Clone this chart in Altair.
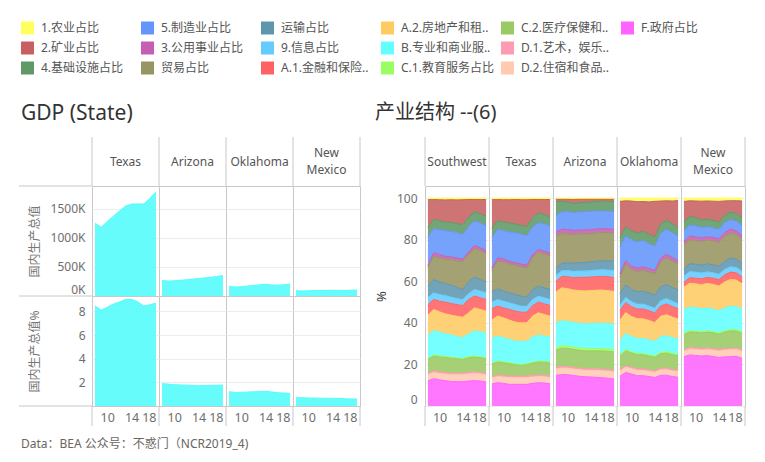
import altair as alt
import pandas as pd

FONT = "Noto Sans, Noto Sans CJK SC"
YEARS = [2008, 2009, 2010, 2011, 2012, 2013, 2014, 2015, 2016, 2017, 2018]

SECTORS = ["1.农业占比", "2.矿业占比", "4.基础设施占比", "5.制造业占比", "3.公用事业占比",
           "贸易占比", "运输占比", "9.信息占比", "A.1.金融和保险..", "A.2.房地产和租..",
           "B.专业和商业服..", "C.1.教育服务占比", "C.2.医疗保健和..", "D.1.艺术，娱乐..",
           "D.2.住宿和食品..", "F.政府占比"]
COLORS = ["#ffff5e", "#c76161", "#5f9965", "#6495fc", "#c45fb2",
          "#979561", "#5f96ae", "#63cbfe", "#ff6262", "#fecb63",
          "#63ffff", "#9afe62", "#9aca63", "#fe9ab2", "#ffcbb0", "#ff63ff"]

STATES = ["Texas", "Arizona", "Oklahoma", "New Mexico"]
# GDP, millions of dollars
GDP = {
    "Texas":      [1250000, 1182000, 1278000, 1369000, 1460000, 1545000, 1580000, 1582000, 1580000, 1676000, 1790000],
    "Arizona":    [267000, 256000, 261000, 270000, 280000, 290000, 300000, 311000, 322000, 336000, 352000],
    "Oklahoma":   [170000, 153000, 160000, 172000, 182000, 192000, 200000, 190000, 186000, 193000, 205000],
    "New Mexico": [91000, 86000, 89000, 93000, 94000, 96000, 99000, 96000, 95000, 100000, 104000],
}
# share of US GDP, %
GDP_PCT = {
    "Texas":      [8.45, 8.11, 8.34, 8.62, 8.79, 9.01, 9.01, 8.82, 8.45, 8.56, 8.70],
    "Arizona":    [1.89, 1.85, 1.80, 1.78, 1.76, 1.74, 1.72, 1.73, 1.74, 1.75, 1.77],
    "Oklahoma":   [1.21, 1.15, 1.16, 1.18, 1.20, 1.22, 1.24, 1.19, 1.12, 1.09, 1.07],
    "New Mexico": [0.70, 0.70, 0.68, 0.67, 0.66, 0.65, 0.65, 0.63, 0.61, 0.60, 0.59],
}

REGIONS = ["Southwest", "Texas", "Arizona", "Oklahoma", "New Mexico"]
SOUTHWEST = {
    "1.农业占比": [0.8, 0.7, 0.8, 0.9, 0.8, 0.9, 0.8, 0.7, 0.7, 0.7, 0.7],
    "2.矿业占比": [13.6, 9.6, 10.1, 10.7, 10.9, 11.4, 12.0, 8.5, 5.9, 6.9, 8.0],
    "4.基础设施占比": [4.8, 4.5, 4.3, 4.2, 4.3, 4.3, 4.8, 4.6, 4.5, 4.3, 4.8],
    "5.制造业占比": [13.6, 11.5, 12.0, 12.3, 12.3, 12.3, 11.7, 12.0, 11.7, 12.0, 11.7],
    "3.公用事业占比": [1.1, 1.6, 1.6, 1.3, 1.3, 1.3, 1.1, 1.3, 1.4, 1.3, 1.4],
    "贸易占比": [9.0, 11.2, 11.5, 11.8, 12.3, 12.8, 13.6, 13.1, 13.8, 13.9, 13.6],
    "运输占比": [5.6, 6.4, 6.1, 5.8, 5.8, 5.4, 4.8, 5.8, 5.9, 5.6, 5.3],
    "9.信息占比": [3.5, 3.2, 3.2, 3.2, 3.0, 2.9, 2.9, 2.7, 3.2, 3.2, 3.2],
    "A.1.金融和保险..": [5.0, 4.8, 5.1, 5.6, 5.6, 5.6, 5.6, 6.4, 5.6, 5.6, 5.6],
    "A.2.房地产和租..": [9.9, 10.1, 9.8, 9.6, 9.6, 9.8, 9.9, 10.1, 11.2, 10.7, 10.4],
    "B.专业和商业服..": [11.2, 11.8, 11.4, 10.9, 10.6, 10.2, 9.9, 11.0, 12.0, 12.0, 12.0],
    "C.1.教育服务占比": [0.5, 0.5, 0.5, 0.5, 0.5, 0.5, 0.5, 0.5, 0.5, 0.5, 0.5],
    "C.2.医疗保健和..": [6.7, 7.2, 7.2, 7.3, 7.2, 6.9, 6.6, 7.0, 7.1, 7.0, 7.0],
    "D.1.艺术，娱乐..": [0.8, 0.8, 0.8, 0.8, 0.8, 0.8, 0.8, 0.8, 0.8, 0.8, 0.8],
    "D.2.住宿和食品..": [2.9, 2.9, 3.0, 3.1, 3.2, 3.3, 3.3, 3.4, 3.4, 3.4, 3.4],
    "F.政府占比": [12.3, 13.1, 12.6, 12.2, 11.8, 11.7, 11.7, 12.0, 12.2, 12.0, 11.5],
}
TEXAS = {
    "1.农业占比": [0.8, 0.7, 0.8, 0.8, 0.7, 0.8, 0.8, 0.7, 0.7, 0.7, 0.7],
    "2.矿业占比": [13.9, 10.1, 10.7, 11.2, 11.7, 12.3, 12.8, 8.8, 6.4, 7.2, 8.3],
    "4.基础设施占比": [4.5, 4.3, 4.2, 4.3, 4.3, 4.2, 4.5, 4.5, 4.8, 4.5, 4.5],
    "5.制造业占比": [14.7, 13.6, 13.6, 14.1, 14.4, 14.4, 14.2, 13.1, 12.8, 13.1, 12.8],
    "3.公用事业占比": [1.3, 1.6, 1.4, 1.3, 1.1, 1.3, 1.3, 1.3, 1.3, 1.3, 1.3],
    "贸易占比": [10.0, 13.3, 14.1, 13.9, 14.1, 14.2, 14.1, 15.5, 16.3, 16.3, 16.3],
    "运输占比": [5.1, 5.1, 4.8, 4.8, 4.8, 4.8, 4.3, 4.8, 4.8, 4.8, 4.8],
    "9.信息占比": [3.2, 3.2, 3.2, 3.2, 3.2, 2.9, 2.9, 2.9, 2.9, 2.9, 2.9],
    "A.1.金融和保险..": [5.6, 4.8, 4.8, 5.1, 5.3, 5.1, 5.1, 5.1, 5.1, 5.1, 5.1],
    "A.2.房地产和租..": [8.8, 9.6, 9.6, 9.3, 9.1, 9.1, 8.8, 10.1, 10.7, 10.4, 10.1],
    "B.专业和商业服..": [12.0, 12.0, 11.5, 11.2, 10.9, 10.9, 10.9, 12.0, 12.5, 12.0, 12.0],
    "C.1.教育服务占比": [0.5, 0.5, 0.5, 0.5, 0.5, 0.5, 0.5, 0.5, 0.5, 0.5, 0.5],
    "C.2.医疗保健和..": [5.9, 6.2, 6.1, 5.9, 5.4, 5.1, 5.4, 5.9, 6.2, 6.2, 6.2],
    "D.1.艺术，娱乐..": [0.8, 0.8, 0.8, 0.8, 0.8, 0.8, 0.8, 0.8, 0.8, 0.8, 0.8],
    "D.2.住宿和食品..": [2.9, 2.9, 3.0, 3.2, 3.2, 3.2, 3.2, 3.0, 2.9, 3.0, 2.9],
    "F.政府占比": [10.7, 11.2, 10.9, 10.4, 10.4, 10.4, 10.4, 10.9, 11.2, 11.0, 10.7],
}
ARIZONA = {
    "1.农业占比": [0.6, 0.6, 0.6, 0.7, 0.6, 0.6, 0.6, 0.6, 0.6, 0.6, 0.6],
    "2.矿业占比": [1.0, 0.9, 1.2, 1.8, 1.6, 1.4, 1.2, 1.0, 0.9, 0.9, 1.0],
    "4.基础设施占比": [6.6, 5.0, 4.6, 4.4, 4.3, 4.4, 4.5, 4.6, 4.6, 4.7, 4.8],
    "5.制造业占比": [7.8, 8.2, 8.4, 8.4, 8.5, 8.6, 8.6, 8.4, 8.3, 8.3, 8.4],
    "3.公用事业占比": [1.8, 2.0, 2.0, 1.9, 1.8, 1.9, 1.9, 1.8, 1.8, 1.8, 1.8],
    "贸易占比": [15.0, 14.0, 13.6, 13.5, 13.6, 13.5, 13.4, 13.4, 13.3, 13.3, 13.2],
    "运输占比": [3.6, 3.5, 3.7, 3.8, 3.9, 4.0, 4.0, 4.1, 4.2, 4.3, 4.5],
    "9.信息占比": [2.8, 2.7, 2.9, 3.0, 3.0, 3.0, 3.1, 3.1, 3.2, 3.2, 3.3],
    "A.1.金融和保险..": [5.0, 5.3, 5.6, 5.8, 6.2, 6.4, 6.4, 6.4, 6.4, 6.5, 6.5],
    "A.2.房地产和租..": [14.7, 15.5, 15.4, 15.3, 15.4, 15.5, 15.6, 15.6, 15.6, 15.5, 15.5],
    "B.专业和商业服..": [11.6, 11.8, 11.6, 11.6, 11.6, 11.7, 11.8, 11.9, 12.0, 12.0, 12.0],
    "C.1.教育服务占比": [1.0, 1.1, 1.1, 1.1, 1.1, 1.1, 1.1, 1.1, 1.1, 1.1, 1.1],
    "C.2.医疗保健和..": [8.2, 8.6, 8.6, 8.5, 8.4, 8.4, 8.4, 8.5, 8.6, 8.6, 8.7],
    "D.1.艺术，娱乐..": [0.8, 0.8, 0.8, 0.8, 0.8, 0.8, 0.8, 0.8, 0.8, 0.8, 0.8],
    "D.2.住宿和食品..": [3.0, 3.0, 3.0, 3.0, 3.0, 3.0, 3.1, 3.2, 3.2, 3.3, 3.3],
    "F.政府占比": [14.4, 14.8, 14.7, 14.4, 14.0, 13.8, 13.7, 13.5, 13.3, 13.1, 12.7],
}
OKLAHOMA = {
    "1.农业占比": [1.6, 1.4, 1.5, 1.8, 1.7, 1.9, 1.6, 1.5, 1.4, 1.5, 1.3],
    "2.矿业占比": [17.5, 13.0, 15.0, 15.5, 14.5, 16.0, 17.5, 11.5, 10.0, 11.5, 13.5],
    "4.基础设施占比": [4.5, 4.6, 4.4, 4.4, 4.5, 4.6, 4.6, 4.8, 4.7, 4.6, 4.6],
    "5.制造业占比": [13.0, 12.3, 13.2, 12.8, 12.8, 12.2, 11.8, 12.5, 12.8, 12.6, 12.4],
    "3.公用事业占比": [1.6, 1.8, 1.8, 1.7, 1.7, 1.7, 1.6, 1.8, 1.9, 1.8, 1.7],
    "贸易占比": [8.0, 10.5, 10.0, 10.0, 10.2, 10.3, 10.5, 12.5, 13.5, 13.5, 13.2],
    "运输占比": [5.6, 6.2, 6.0, 6.2, 6.3, 6.5, 6.5, 7.0, 7.2, 7.0, 6.8],
    "9.信息占比": [2.4, 2.6, 2.5, 2.4, 2.4, 2.3, 2.3, 2.6, 2.8, 2.7, 2.6],
    "A.1.金融和保险..": [4.8, 5.0, 4.9, 4.8, 4.8, 4.8, 4.7, 5.2, 5.5, 5.3, 5.3],
    "A.2.房地产和租..": [9.6, 10.5, 10.0, 9.8, 9.6, 9.5, 9.3, 10.2, 10.8, 10.5, 10.2],
    "B.专业和商业服..": [7.2, 8.0, 7.6, 7.4, 7.3, 7.4, 7.2, 7.8, 8.2, 8.0, 7.8],
    "C.1.教育服务占比": [0.6, 0.7, 0.7, 0.6, 0.6, 0.6, 0.6, 0.7, 0.7, 0.7, 0.6],
    "C.2.医疗保健和..": [6.4, 7.4, 7.1, 7.0, 6.9, 6.8, 6.6, 7.4, 7.7, 7.5, 7.3],
    "D.1.艺术，娱乐..": [0.8, 0.8, 0.8, 0.8, 0.8, 0.8, 0.8, 0.8, 0.8, 0.8, 0.8],
    "D.2.住宿和食品..": [2.4, 2.6, 2.6, 2.5, 2.5, 2.5, 2.5, 2.7, 2.8, 2.8, 2.8],
    "F.政府占比": [14.4, 16.8, 16.0, 15.0, 14.8, 14.5, 14.0, 15.4, 15.8, 15.0, 14.6],
}
NEW_MEXICO = {
    "1.农业占比": [1.6, 1.3, 1.4, 1.5, 1.4, 1.5, 1.6, 1.4, 1.3, 1.3, 1.4],
    "2.矿业占比": [9.6, 7.5, 8.0, 9.0, 8.8, 9.2, 10.0, 7.0, 5.5, 6.2, 8.0],
    "4.基础设施占比": [4.2, 4.2, 3.9, 3.7, 3.6, 3.6, 3.5, 3.6, 3.7, 3.7, 3.8],
    "5.制造业占比": [5.0, 5.2, 5.4, 5.0, 4.8, 4.6, 4.5, 4.8, 4.6, 4.7, 4.8],
    "3.公用事业占比": [1.6, 1.8, 1.7, 1.6, 1.6, 1.7, 1.7, 1.8, 1.9, 1.8, 1.8],
    "贸易占比": [11.2, 11.4, 11.4, 11.4, 11.4, 11.5, 11.6, 12.0, 12.2, 12.0, 11.5],
    "运输占比": [3.6, 3.8, 3.8, 3.8, 3.8, 3.8, 3.8, 4.0, 4.2, 4.0, 4.0],
    "9.信息占比": [3.0, 3.0, 2.9, 2.8, 2.7, 2.6, 2.6, 2.6, 2.6, 2.6, 2.5],
    "A.1.金融和保险..": [2.2, 2.6, 2.7, 2.8, 2.9, 3.0, 3.1, 3.4, 3.6, 3.5, 3.4],
    "A.2.房地产和租..": [10.4, 11.6, 11.4, 11.6, 11.8, 11.9, 12.0, 12.6, 13.0, 12.8, 12.2],
    "B.专业和商业服..": [11.4, 11.2, 11.2, 11.0, 10.9, 10.8, 10.6, 11.1, 11.4, 11.3, 11.0],
    "C.1.教育服务占比": [0.6, 0.6, 0.6, 0.6, 0.6, 0.6, 0.6, 0.6, 0.6, 0.6, 0.6],
    "C.2.医疗保健和..": [7.0, 7.4, 7.6, 7.5, 7.6, 7.6, 7.4, 8.0, 8.4, 8.2, 8.0],
    "D.1.艺术，娱乐..": [0.8, 0.8, 0.8, 0.8, 0.8, 0.8, 0.8, 0.8, 0.8, 0.8, 0.8],
    "D.2.住宿和食品..": [2.6, 2.8, 2.8, 2.8, 2.9, 3.0, 3.0, 3.2, 3.3, 3.3, 3.2],
    "F.政府占比": [23.2, 24.5, 24.3, 24.0, 24.2, 23.8, 23.4, 23.8, 24.0, 24.1, 23.0],
}
INDUSTRY = {"Southwest": SOUTHWEST, "Texas": TEXAS, "Arizona": ARIZONA,
            "Oklahoma": OKLAHOMA, "New Mexico": NEW_MEXICO}

LEFT_TITLE = "GDP (State)"
RIGHT_TITLE = "产业结构 --(6)"
Y_GDP_TITLE = "国内生产总值"
Y_PCT_TITLE = "国内生产总值%"
FOOTNOTE = "Data：BEA 公众号：不惑门（NCR2019_4)"

# ---------------- styling ----------------
BORDER = "#c8c8c8"
GRID = "#ececec"
LABEL = "#6e6e6e"
CYAN = "#55fcfc"
WL, HH, HR = 67, 49, 110      # left panel width, header height, left row height
WR, HRR = 64, 220             # right panel width / height
ORIGIN = 93                   # page x of the left plot origin
LINE_H = 17

xscale = alt.Scale(domain=[2007.5, 2018.5], nice=False, zero=False)
one = pd.DataFrame({"k": [0]})


def vrule(x, y0, y1):
    return alt.Chart(one).mark_rule(color=BORDER, strokeWidth=1).encode(
        x=alt.value(x), y=alt.value(y0), y2=alt.value(y1))


def hrule(y, x0, x1):
    return alt.Chart(one).mark_rule(color=BORDER, strokeWidth=1).encode(
        y=alt.value(y), x=alt.value(x0), x2=alt.value(x1))


def header_cell(name, w, h, last):
    lab = name.replace(" ", "\n")
    nlines = lab.count("\n") + 1
    t = alt.Chart(pd.DataFrame({"lab": [lab]})).mark_text(
        font=FONT, fontSize=12, color="#555555", lineBreak="\n", lineHeight=LINE_H,
        dy=-(nlines - 1) * LINE_H / 2
    ).encode(text="lab:N")
    layers = [t, vrule(0, 0, h)]
    if last:
        layers.append(vrule(w, 0, h))
    return alt.layer(*layers).properties(width=w, height=h, view=alt.ViewBackground(stroke=None))


def x_axis_bottom():
    return alt.Axis(values=[2010, 2014, 2018], format="d", labelExpr="substring(datum.label, 2)",
                    ticks=False, domain=False, grid=False, labelFlush=5, labelOverlap=False,
                    labelPadding=5, labelFontSize=12.5, title=None)


def left_cell(state, field, values, domain, ticks, first, last, bottom, ytitle, lab_expr):
    df = pd.DataFrame({"year": YEARS, field: values})
    yaxis = alt.Axis(values=ticks, grid=True, gridColor=GRID, ticks=False, domain=False,
                     labels=first, labelExpr=lab_expr, labelPadding=7, labelFlush=True,
                     labelFontSize=12,
                     title=ytitle if first else None, titleX=-58, titleY=HR / 2,
                     titleAngle=-90, titleAlign="center", titleBaseline="middle",
                     titleColor="#777777", titleFontSize=12, titleFontWeight="normal")
    area = alt.Chart(df).mark_area(color=CYAN, fillOpacity=0.9,
                                   line={"color": CYAN, "strokeWidth": 1}).encode(
        x=alt.X("year:Q", scale=xscale, axis=x_axis_bottom() if bottom else None),
        y=alt.Y(f"{field}:Q", scale=alt.Scale(domain=domain, nice=False, zero=True), axis=yaxis),
    )
    layers = [area]
    if first:
        layers.append(hrule(0, -73, 0))
        if bottom:
            layers.append(hrule(HR, -73, 0))
    if bottom:
        layers.append(vrule(0, HR, HR + 20))
        if last:
            layers.append(vrule(WL, HR, HR + 20))
    return alt.layer(*layers).properties(width=WL, height=HR)


# ---------------- left section ----------------
left_cells = []
for i, s in enumerate(STATES):
    left_cells.append(header_cell(s, WL, HH, i == len(STATES) - 1))
for i, s in enumerate(STATES):
    left_cells.append(left_cell(s, "gdp", GDP[s], [0, 1890000], [0, 500000, 1000000, 1500000],
                                i == 0, i == len(STATES) - 1, False, Y_GDP_TITLE,
                                "format(datum.value / 1000, 'd') + 'K'"))
for i, s in enumerate(STATES):
    left_cells.append(left_cell(s, "pct", GDP_PCT[s], [0, 9.3], [2, 4, 6, 8],
                                i == 0, i == len(STATES) - 1, True, Y_PCT_TITLE,
                                "datum.label"))

left = alt.concat(*left_cells, columns=4, spacing=0, bounds="flush", align="each").properties(
    title=alt.TitleParams(LEFT_TITLE, anchor="start", fontSize=21, font=FONT, color="#333333",
                          fontWeight="normal", offset=13, dx=3))

# ---------------- right section ----------------
rows = []
for r in REGIONS:
    for si, s in enumerate(SECTORS):
        for yi, y in enumerate(YEARS):
            rows.append({"region": r, "sector": s, "sidx": si, "year": y,
                         "value": INDUSTRY[r][s][yi]})
ind = pd.DataFrame(rows)

color_scale = alt.Scale(domain=SECTORS, range=COLORS)


def right_cell(region, first, last):
    d = ind[ind.region == region]
    yaxis = alt.Axis(values=[0, 20, 40, 60, 80, 100], grid=True, gridColor=GRID, ticks=False,
                     domain=False, labels=first, labelPadding=8, labelFlush=True, labelFontSize=12,
                     title="%" if first else None, titleColor="#333333", titleFontSize=13,
                     titleFontWeight="normal", titlePadding=8)
    area = alt.Chart(d).transform_joinaggregate(
        total="sum(value)", groupby=["year"]
    ).transform_calculate(
        pct="datum.value / datum.total * 100"
    ).mark_area(fillOpacity=0.88, line={"strokeWidth": 1}).encode(
        x=alt.X("year:Q", scale=xscale, axis=x_axis_bottom()),
        y=alt.Y("pct:Q", stack="zero", scale=alt.Scale(domain=[0, 105.8], nice=False), axis=yaxis),
        color=alt.Color("sector:N", scale=color_scale, legend=None),
        order=alt.Order("sidx:Q", sort="descending"),
    )
    layers = [area, vrule(0, HRR, HRR + 20)]
    if last:
        layers.append(vrule(WR, HRR, HRR + 20))
    return alt.layer(*layers).properties(width=WR, height=HRR)


right_cells = []
for i, r in enumerate(REGIONS):
    right_cells.append(header_cell(r, WR, HH, i == len(REGIONS) - 1))
for i, r in enumerate(REGIONS):
    right_cells.append(right_cell(r, i == 0, i == len(REGIONS) - 1))

right = alt.concat(*right_cells, columns=5, spacing=0, bounds="flush", align="each").properties(
    title=alt.TitleParams(RIGHT_TITLE, anchor="start", fontSize=20, font=FONT, color="#333333",
                          fontWeight="normal", offset=14))

# ---------------- legend ----------------
leg = pd.DataFrame({"sector": SECTORS,
                    "col": [i // 3 for i in range(len(SECTORS))],
                    "row": [i % 3 for i in range(len(SECTORS))]})
lx = alt.X("col:Q", scale=alt.Scale(domain=[0, 5]), axis=None)
ly = alt.Y("row:Q", scale=alt.Scale(domain=[3.2, -0.5]), axis=None)
leg_sq = alt.Chart(leg).mark_square(size=169, opacity=1, xOffset=22 + 6.5 - ORIGIN).encode(
    x=lx, y=ly, color=alt.Color("sector:N", scale=color_scale, legend=None))
leg_tx = alt.Chart(leg).mark_text(align="left", baseline="middle", dx=42 - ORIGIN, font=FONT,
                                  fontSize=12, color="#555555").encode(x=lx, y=ly, text="sector:N")
legend = alt.layer(leg_sq, leg_tx).properties(width=600, height=74,
                                              view=alt.ViewBackground(stroke=None))

# ---------------- footnote ----------------
foot = alt.Chart(pd.DataFrame({"t": [FOOTNOTE]})).mark_text(
    align="left", baseline="middle", font=FONT, fontSize=12, color="#6b6560"
).encode(text="t:N", x=alt.value(22 - ORIGIN)).properties(width=300, height=14,
                                                          view=alt.ViewBackground(stroke=None))

chart = alt.vconcat(
    legend,
    alt.hconcat(left, right, spacing=13),
    foot,
    spacing=10,
).properties(padding={"left": 10, "top": 10, "right": 2, "bottom": 2})

chart = chart.configure(font=FONT).configure_view(stroke=BORDER, strokeWidth=1).configure_axis(
    labelFont=FONT, titleFont=FONT, labelColor=LABEL)

chart.save("out.html", embed_options={"renderer": "svg", "actions": False})
